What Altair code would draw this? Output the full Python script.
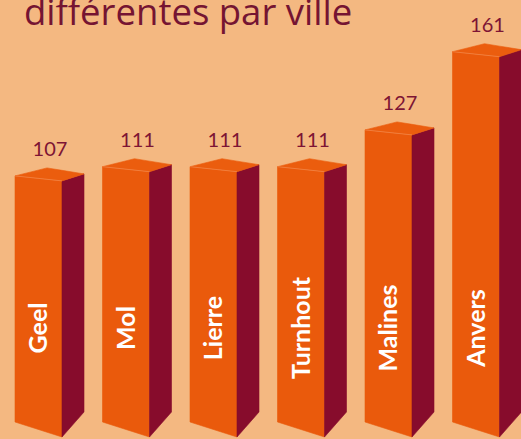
import altair as alt
import pandas as pd

# ---- data ----
cities = ["Geel", "Mol", "Lierre", "Turnhout", "Malines", "Anvers"]
values = [107, 111, 111, 111, 127, 161]
title_text = ["différentes par ville"]

# ---- geometry constants (pixels -> data units) ----
PITCH = 87.5   # px between bars
K = 2.3        # px per value unit
LEFT = 15      # px of first bar's left edge


def xu(px):
    return px / PITCH


def yu(px):
    return px / K


faces = []
edges = []
vlabels = []
clabels = []
for i, (c, v) in enumerate(zip(cities, values)):
    p = i
    # front face
    faces += [
        dict(key=f"{c}-front", face="front", x=p, y=v, y2=0),
        dict(key=f"{c}-front", face="front", x=p + xu(47), y=v - yu(5), y2=-yu(15)),
    ]
    # side face
    faces += [
        dict(key=f"{c}-side", face="side", x=p + xu(47), y=v - yu(5), y2=-yu(15)),
        dict(key=f"{c}-side", face="side", x=p + xu(69), y=v + yu(2), y2=yu(10)),
    ]
    # top face
    faces += [
        dict(key=f"{c}-top", face="top", x=p, y=v, y2=v),
        dict(key=f"{c}-top", face="top", x=p + xu(32), y=v + yu(8), y2=v - yu(5 * 32 / 47)),
        dict(key=f"{c}-top", face="top", x=p + xu(47), y=v + yu(5.57), y2=v - yu(5)),
        dict(key=f"{c}-top", face="top", x=p + xu(69), y=v + yu(2), y2=v + yu(2)),
    ]
    edges += [
        dict(key=c, x=p, y=v),
        dict(key=c, x=p + xu(47), y=v - yu(5)),
    ]
    vlabels.append(dict(city=c, label=str(v), x=p + xu(35), y=v + yu(20)))
    clabels.append(dict(city=c, x=p + xu(24), y=yu(94)))

faces_df = pd.DataFrame(faces)
edges_df = pd.DataFrame(edges)
vl_df = pd.DataFrame(vlabels)
cl_df = pd.DataFrame(clabels)
title_df = pd.DataFrame({"t": title_text})

W, H = 521, 439
xscale = alt.Scale(domain=[-xu(LEFT), xu(W - LEFT)], nice=False, zero=False)
yscale = alt.Scale(domain=[-yu(H - 422), yu(422)], nice=False, zero=False)

X = lambda f="x": alt.X(f"{f}:Q", scale=xscale, axis=None)
Y = lambda f="y": alt.Y(f"{f}:Q", scale=yscale, axis=None, stack=None)

face_colors = alt.Scale(domain=["front", "side", "top"],
                        range=["#EA5A0C", "#870C2C", "#EB5D0E"])

faces_layer = alt.Chart(faces_df).mark_area(orient="vertical", strokeWidth=0.6).encode(
    x=X(),
    y=Y(),
    y2="y2:Q",
    color=alt.Color("face:N", scale=face_colors, legend=None),
    stroke=alt.Stroke("face:N", scale=face_colors, legend=None),
    detail="key:N",
)

edge_layer = alt.Chart(edges_df).mark_line(color="#F38A4E", strokeWidth=1, opacity=0.7).encode(
    x=X(), y=Y(), detail="key:N"
)

value_layer = alt.Chart(vl_df).mark_text(
    font="Lato", fontSize=20, color="#7D1434", align="center", baseline="alphabetic"
).encode(x=X(), y=Y(), text="label:N")

city_layer = alt.Chart(cl_df).mark_text(
    font="Lato", fontSize=25, fontWeight="bold", color="white",
    align="center", baseline="middle", angle=270
).encode(x=X(), y=Y(), text="city:N")

title_layer = alt.Chart(title_df).mark_text(
    font="Open Sans", fontSize=36.5, color="#751432", align="left", baseline="alphabetic"
).encode(x=alt.value(24), y=alt.value(25), text="t:N")

chart = alt.layer(faces_layer, edge_layer, value_layer, city_layer, title_layer).properties(
    width=W, height=H,
    autosize=alt.AutoSizeParams(type="none"),
    padding=0,
    background="#F4B881",
).configure_view(stroke=None)

chart.save("out.html", embed_options={"renderer": "svg", "actions": False})
